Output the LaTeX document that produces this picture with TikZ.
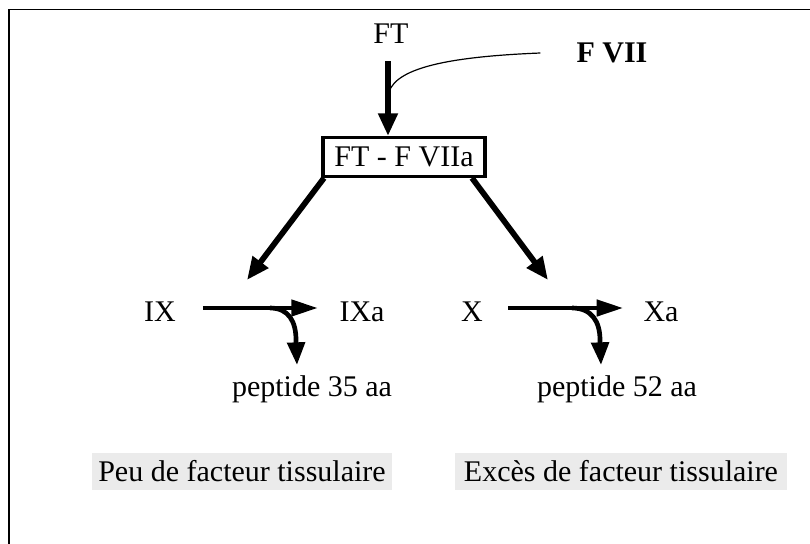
\documentclass[tikz,border=0pt]{standalone}
\usepackage{fontspec}
\setmainfont{Liberation Serif}
\usetikzlibrary{arrows.meta}
\definecolor{boxgrey}{HTML}{EBEBEB}

\tikzset{
	label/.style={font=\fontsize{22.5}{27}\selectfont, inner sep=0pt},
	bigarrow/.style={line width=4.3pt, -{Triangle[length=17pt,width=14pt]}},
	flatarrow/.style={line width=3.5pt, -{Triangle[length=20pt,width=12pt]}},
	bendarrow/.style={line width=3.5pt, -{Triangle[length=17pt,width=13pt]}},
	greybox/.style={label, fill=boxgrey, minimum height=27.75pt},
}

\begin{document}
\begin{tikzpicture}[x=0.75pt,y=-0.75pt]
				\useasboundingbox (0,0) rectangle (810,543);
				\draw[line width=1pt] (9,560) -- (9,9.5) -- (830,9.5);

				% complexe FT - F VIIa
				\node[label] (ft) at (391,34) {FT};
				\node[label] (fvii) at (612,53) {\textbf{F VII}};
				\node[label, draw, line width=2.5pt, minimum width=121.5pt, minimum height=29pt] (cplx) at (404,157) {FT - F VIIa};
				\coordinate (join) at (388,97);
				\draw[bigarrow] ([yshift=-13pt]ft.south -| join) -- (join |- cplx.north);
				\draw[line width=0.9pt] ([xshift=-27pt]fvii.west) .. controls (440,57) and (390,70) .. (join);

				% voie du IX
				\node[label] (ix) at (160,312) {IX};
				\node[label] (ixa) at (362,312) {IXa};
				\node[label] (pep1) at (312,389) {peptide 35 aa};
				\coordinate (ixtip) at (247,280);
				\draw[bigarrow] ([xshift=2pt]cplx.south west) -- (ixtip);
				\draw[flatarrow] ([shift={(20pt,3pt)}]ix.east) -- ([shift={(-16pt,3pt)}]ixa.west);
				\coordinate (b1) at (270,308);
				\coordinate (t1) at (297,365);
				\draw[bendarrow] (b1) .. controls (289,308) and (296,322) .. (296,340) -- (t1);

				% voie du X
				\node[label] (x) at (472,312) {X};
				\node[label] (xa) at (661,312) {Xa};
				\node[label] (pep2) at (617,389) {peptide 52 aa};
				\coordinate (xtip) at (548,280);
				\draw[bigarrow] ([xshift=-11pt]cplx.south east) -- (xtip);
				\draw[flatarrow] ([shift={(19pt,3pt)}]x.east) -- ([shift={(-15pt,3pt)}]xa.west);
				\coordinate (b2) at (572,308);
				\coordinate (t2) at (601,365);
				\draw[bendarrow] (b2) .. controls (592,308) and (600,322) .. (600,340) -- (t2);

				\node[greybox, minimum width=225pt] (peu) at (242,471.5) {Peu de facteur tissulaire};
				\node[greybox, minimum width=249pt] (exces) at (621,471.5) {Excès de facteur tissulaire};
\end{tikzpicture}
\end{document}
